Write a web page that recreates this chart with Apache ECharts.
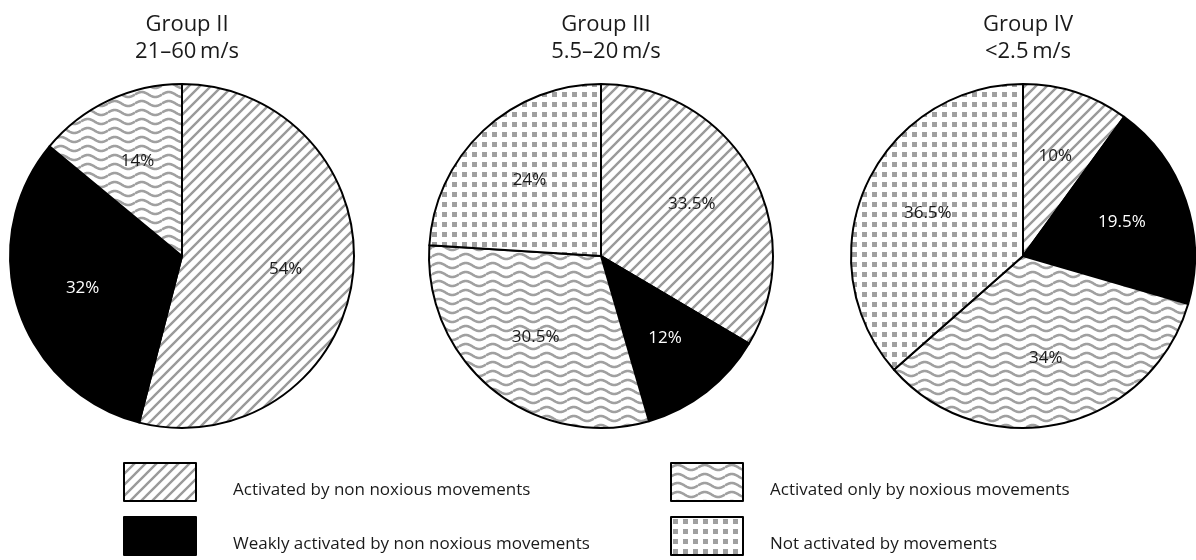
<!DOCTYPE html>
<html>
<head>
<meta charset="utf-8">
<script src="https://cdn.jsdelivr.net/npm/echarts@6/dist/echarts.min.js"></script>
<style>
html,body{margin:0;padding:0;background:#fff;}
#chart{width:1196px;height:560px;}
</style>
</head>
<body>
<div id="chart"></div>
<script>
// ---- data ----
const categories = [
  'Activated by non noxious movements',
  'Weakly activated by non noxious movements',
  'Activated only by noxious movements',
  'Not activated by movements'
];
const groupTitles = ['Group II', 'Group III', 'Group IV'];
const groupRanges = ['21\u201360\u2009m/s', '5.5\u201320\u2009m/s', '<2.5\u2009m/s'];
const groupII  = [54, 32, 14, 0];
const groupIII = [33.5, 12, 30.5, 24];
const groupIV  = [10, 19.5, 34, 36.5];
const groups = [groupII, groupIII, groupIV];

// ---- patterns ----
function makeCanvas(w, h) {
  const c = document.createElement('canvas');
  c.width = w; c.height = h;
  const ctx = c.getContext('2d');
  ctx.fillStyle = '#fff';
  ctx.fillRect(0, 0, w, h);
  return [c, ctx];
}
function diagPattern() {
  const s = 11;
  const [c, ctx] = makeCanvas(s, s);
  ctx.strokeStyle = '#9a9a9a';
  ctx.lineWidth = 2.4;
  ctx.beginPath();
  for (let k = -1; k <= 1; k++) {
    ctx.moveTo(-2 + k * s, s + 2);
    ctx.lineTo(s + 2 + k * s, -2);
  }
  ctx.stroke();
  return c;
}
function wavePattern() {
  const w = 27, h = 9, A = 2.5;
  const [c, ctx] = makeCanvas(w, h);
  ctx.strokeStyle = '#a0a0a0';
  ctx.lineWidth = 2.6;
  for (let k = -1; k <= 1; k++) {
    ctx.beginPath();
    for (let x = 0; x <= w; x += 0.5) {
      const y = h / 2 + k * h - A * Math.sin(2 * Math.PI * x / w);
      if (x === 0) ctx.moveTo(x, y); else ctx.lineTo(x, y);
    }
    ctx.stroke();
  }
  return c;
}
function dotPattern() {
  const s = 10;
  const [c, ctx] = makeCanvas(s, s);
  ctx.fillStyle = '#a0a0a0';
  ctx.fillRect(2, 2, 5, 5);
  return c;
}
const fills = [
  { image: diagPattern(), repeat: 'repeat' },
  '#000',
  { image: wavePattern(), repeat: 'repeat' },
  { image: dotPattern(), repeat: 'repeat' }
];

// ---- layout ----
const centers = [[182, 256], [601, 256], [1023, 256]];
const R = 172;
const font = '"Open Sans", "Noto Sans", sans-serif';

const chart = echarts.init(document.getElementById('chart'), null, { renderer: 'canvas' });

const mainSeries = groups.map((vals, gi) => ({
  type: 'pie',
  center: centers[gi],
  radius: [0, R],
  startAngle: 90,
  clockwise: true,
  silent: true,
  animation: false,
  label: { show: false },
  labelLine: { show: false },
  emphasis: { disabled: true },
  data: vals.map((v, i) => ({ name: categories[i], value: v, itemStyle: { color: fills[i] } }))
             .filter(d => d.value > 0),
  itemStyle: { borderColor: '#000', borderWidth: 2 }
}));

const labelSeries = groups.map((vals, gi) => ({
  type: 'pie',
  center: centers[gi],
  radius: [R * 0.18, R],
  startAngle: 90,
  clockwise: true,
  silent: true,
  animation: false,
  emphasis: { disabled: true },
  labelLine: { show: false },
  itemStyle: { color: 'rgba(0,0,0,0)', borderWidth: 0 },
  label: {
    show: true,
    position: 'inside',
    formatter: p => p.value + '%',
    fontFamily: font,
    fontSize: 17,
    color: '#1a1a1a'
  },
  data: vals.map((v, i) => ({
      name: categories[i], value: v,
      label: { color: i === 1 ? '#fff' : '#1a1a1a' }
    })).filter(d => d.value > 0)
}));

const titles = groupTitles.map((t, gi) => ({
  text: t + '\n' + groupRanges[gi],
  left: centers[gi][0],
  top: 6,
  textAlign: 'center',
  textStyle: { fontFamily: font, fontSize: 22, fontWeight: 'normal', color: '#1a1a1a', lineHeight: 27 }
}));

const legendCommon = {
  orient: 'vertical',
  icon: 'rect',
  itemWidth: 72,
  itemHeight: 38,
  itemGap: 14,
  padding: 0,
  height: 96,
  selectedMode: false,
  itemStyle: { borderColor: '#000', borderWidth: 2 },
  top: 462
};

chart.setOption({
  backgroundColor: '#fff',
  animation: false,
  title: titles,
  legend: [
    Object.assign({}, legendCommon, {
      left: 123,
      data: [categories[0], categories[1]],
      formatter: '{t|{name}}',
      textStyle: {
        fontFamily: font, fontSize: 17, color: '#1a1a1a', padding: [0, 0, 0, 32],
        rich: { t: { fontFamily: font, fontSize: 17, color: '#1a1a1a', padding: [16, 0, 0, 0] } }
      }
    }),
    Object.assign({}, legendCommon, {
      left: 670,
      data: [categories[2], categories[3]],
      formatter: '{t|{name}}',
      textStyle: {
        fontFamily: font, fontSize: 17, color: '#1a1a1a', padding: [0, 0, 0, 22],
        rich: { t: { fontFamily: font, fontSize: 17, color: '#1a1a1a', padding: [16, 0, 0, 0] } }
      }
    })
  ],
  series: mainSeries.concat(labelSeries)
});
</script>
</body>
</html>
